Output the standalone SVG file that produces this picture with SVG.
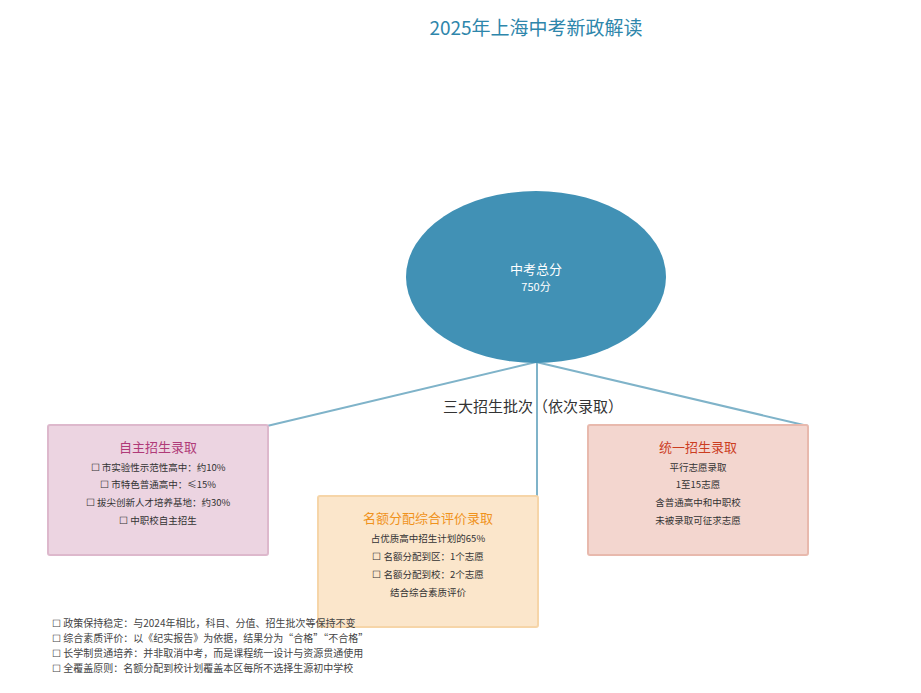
<svg xmlns="http://www.w3.org/2000/svg" width="921" height="693" viewBox="0 0 921 693">
<style>
text{font-family:"Noto Sans CJK SC","Liberation Sans",sans-serif}
.t{font-size:9.5px;fill:#333;text-anchor:middle}
.h{font-size:13px;text-anchor:middle}
.f{font-size:10px;fill:#444}
.c{stroke:#7fb3c9;stroke-width:2;fill:none}
</style>
<rect width="921" height="693" fill="#fff"/>
<text x="536" y="35" font-size="19" fill="#2e86ab" text-anchor="middle">2025年上海中考新政解读</text>
<g id="connectors">
<line class="c" x1="536" y1="362" x2="267" y2="426"/>
<line class="c" x1="537" y1="362" x2="537" y2="497"/>
<line class="c" x1="536" y1="362" x2="808" y2="426"/>
</g>
<text x="533" y="412" font-size="15" fill="#333" text-anchor="middle">三大招生批次（依次录取）</text>
<g id="center">
<ellipse cx="536" cy="277" rx="130" ry="86" fill="#4191b5"/>
<text x="536" y="274" font-size="13" fill="#fff" text-anchor="middle">中考总分</text>
<text x="536" y="291" font-size="11" fill="#fff" text-anchor="middle">750分</text>
</g>
<g id="zizhu">
<rect x="48" y="425" width="220" height="130" rx="2" fill="#ecd4e1" stroke="#ddb8cc" stroke-width="2"/>
<text x="158" y="452" class="h" fill="#b03a78">自主招生录取</text>
<text x="158" y="471" class="t">☐  市实验性示范性高中：约10%</text>
<text x="158" y="488" class="t">☐  市特色普通高中：≤15%</text>
<text x="158" y="506" class="t">☐  拔尖创新人才培养基地：约30%</text>
<text x="158" y="524" class="t">☐  中职校自主招生</text>
</g>
<g id="tongyi">
<rect x="588" y="425" width="220" height="130" rx="2" fill="#f3d6cf" stroke="#e8b9ad" stroke-width="2"/>
<text x="698" y="452" class="h" fill="#cc3d1f">统一招生录取</text>
<text x="698" y="471" class="t">平行志愿录取</text>
<text x="698" y="488" class="t">1至15志愿</text>
<text x="698" y="506" class="t">含普通高中和中职校</text>
<text x="698" y="524" class="t">未被录取可征求志愿</text>
</g>
<g id="minge">
<rect x="318" y="496" width="220" height="131" rx="2" fill="#fbe6cb" stroke="#f6d5a8" stroke-width="2"/>
<text x="428" y="523" class="h" fill="#f0921c">名额分配综合评价录取</text>
<text x="428" y="542" class="t">占优质高中招生计划的65%</text>
<text x="428" y="560" class="t">☐  名额分配到区：1个志愿</text>
<text x="428" y="578" class="t">☐  名额分配到校：2个志愿</text>
<text x="428" y="596" class="t">结合综合素质评价</text>
</g>
<g id="notes">
<text x="52" y="627" class="f">☐  政策保持稳定：与2024年相比，科目、分值、招生批次等保持不变</text>
<text x="52" y="642" class="f">☐  综合素质评价：以《纪实报告》为依据，结果分为“合格”“不合格”</text>
<text x="52" y="657" class="f">☐  长学制贯通培养：并非取消中考，而是课程统一设计与资源贯通使用</text>
<text x="52" y="672" class="f">☐  全覆盖原则：名额分配到校计划覆盖本区每所不选择生源初中学校</text>
</g>
</svg>
